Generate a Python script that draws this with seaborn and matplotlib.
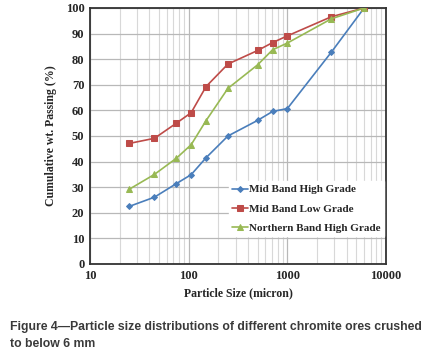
import numpy as np
import pandas as pd
import seaborn as sns
import matplotlib
matplotlib.use("Agg")
import matplotlib.pyplot as plt
from matplotlib.ticker import LogLocator, FixedLocator, NullFormatter

sizes = [25, 45, 75, 106, 150, 250, 500, 710, 1000, 2800, 6000]
mid_high = [22.5, 26.1, 31.4, 34.9, 41.5, 50.0, 56.1, 59.6, 60.7, 82.8, 100]
mid_low = [47.1, 49.1, 55.0, 59.1, 69.3, 78.1, 83.4, 86.5, 89.1, 96.6, 100]
north_high = [29.2, 35.0, 41.3, 46.6, 56.0, 68.6, 77.8, 83.7, 86.3, 95.8, 100]
series_names = ["Mid Band High Grade", "Mid Band Low Grade", "Northern Band High Grade"]
colors = ["#4a7ebb", "#be4b48", "#98b954"]
markers = ["D", "s", "^"]
msizes = [3.0, 4.2, 4.5]

df = pd.concat([
    pd.DataFrame({"size": sizes, "pct": v, "series": n})
    for v, n in zip([mid_high, mid_low, north_high], series_names)
])

sns.set_style("white")
plt.rcParams["font.family"] = ["Liberation Serif", "DejaVu Serif"]

fig = plt.figure(figsize=(4.25, 3.59), dpi=100)
ax = fig.add_axes([90 / 425, 1 - 264 / 359, (386 - 90) / 425, (264 - 8) / 359])

for name, c, m, ms in zip(series_names, colors, markers, msizes):
    sub = df[df["series"] == name]
    sns.lineplot(data=sub, x="size", y="pct", ax=ax, color=c, marker=m,
                 markersize=ms, markeredgecolor=c, linewidth=1.2, label=name,
                 zorder=3)

ax.set_xscale("log")
ax.set_xlim(10, 10000)
ax.set_ylim(0, 100)
ax.set_yticks(np.arange(0, 101, 10))
ax.xaxis.set_major_locator(FixedLocator([10, 100, 1000, 10000]))
ax.xaxis.set_minor_locator(LogLocator(base=10, subs=np.arange(2, 10)))
ax.xaxis.set_minor_formatter(NullFormatter())
ax.set_xticklabels(["10", "100", "1000", "10000"])
ax.grid(True, which="major", axis="both", color="#b8b8b8", linewidth=0.9)
ax.grid(True, which="minor", axis="x", color="#d8d8d8", linewidth=0.8)
ax.tick_params(axis="both", which="both", length=0, pad=4)
for lab in ax.get_xticklabels() + ax.get_yticklabels():
    lab.set_fontweight("bold")
    lab.set_fontsize(9)
for s in ax.spines.values():
    s.set_color("#333333")
    s.set_linewidth(1.3)

ax.set_xlabel("Particle Size (micron)", fontsize=8.5, fontweight="bold", labelpad=4)
ax.set_ylabel("Cumulative wt. Passing (%)", fontsize=8.5, fontweight="bold", labelpad=6)

leg = ax.legend(loc="lower right", bbox_to_anchor=(1.0, 0.1), frameon=True,
                fancybox=False, framealpha=1, edgecolor="white",
                prop={"family": "Liberation Serif", "weight": "bold", "size": 8.0},
                handlelength=1.4, handletextpad=0.1, labelspacing=0.85,
                borderpad=0.3, borderaxespad=0.2)

cap_kw = dict(fontsize=8.8, fontweight="bold", color="#3a3a3a",
              family="Liberation Sans", va="center", ha="left")
fig.text(10 / 425, 1 - 327 / 359,
         "Figure 4\u2014Particle size distributions of different chromite ores crushed",
         **cap_kw)
fig.text(10 / 425, 1 - 344 / 359, "to below 6 mm", **cap_kw)

fig.savefig("out.png", dpi=100)
